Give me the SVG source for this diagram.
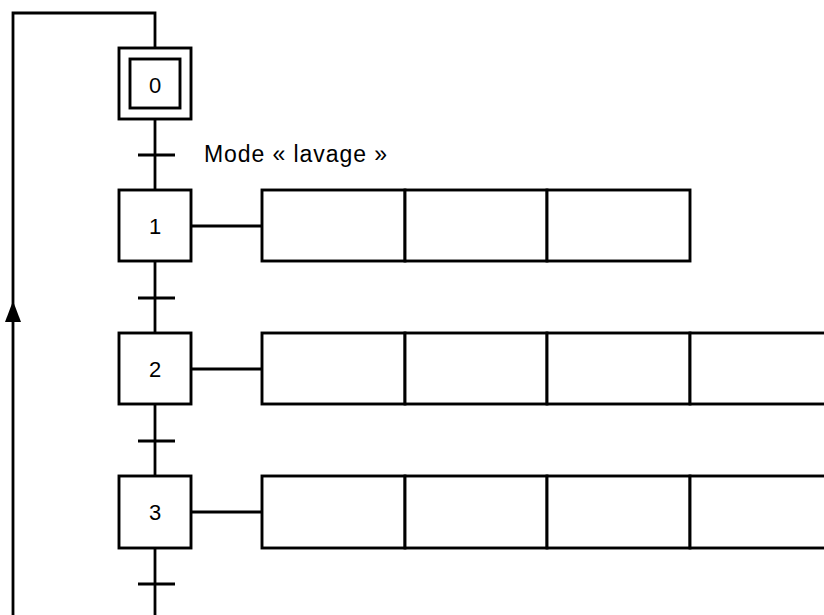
<svg xmlns="http://www.w3.org/2000/svg" width="824" height="615" viewBox="0 0 824 615">
<defs>
<style>
.box{fill:#fff;stroke:#000;stroke-width:2.9}
.ln{fill:none;stroke:#000;stroke-width:2.8}
.lbl{font-family:"Liberation Sans",Arial,sans-serif;font-size:23px;fill:#000}
.num{font-family:"Liberation Sans",Arial,sans-serif;font-size:22px;fill:#000;text-anchor:middle}
</style>
</defs>
<rect width="824" height="615" fill="#fff"/>
<g id="connectors">
<path class="ln" d="M155,48 V13 H13 V615"/>
<path d="M13,301 L21,322 L5,322 Z" fill="#000"/>
<path class="ln" d="M155,119 V190"/>
<path class="ln" d="M155,261 V333"/>
<path class="ln" d="M155,404 V476"/>
<path class="ln" d="M155,548 V615"/>
<path class="ln" d="M138,155 H175"/>
<path class="ln" d="M138,298 H175"/>
<path class="ln" d="M138,441 H175"/>
<path class="ln" d="M138,584 H175"/>
<path class="ln" d="M191,226 H262"/>
<path class="ln" d="M191,369 H262"/>
<path class="ln" d="M191,512 H262"/>
</g>
<g id="label-t1"><text class="lbl" x="204" y="162" textLength="183" lengthAdjust="spacing">Mode « lavage »</text></g>
<g id="step0">
<rect class="box" x="119" y="48" width="72" height="71"/>
<rect class="box" x="130" y="59" width="50" height="49"/>
<text class="num" x="155" y="92.5">0</text>
</g>
<g id="step1">
<rect class="box" x="119" y="190" width="72" height="71"/>
<text class="num" x="155" y="234">1</text>
</g>
<g id="step2">
<rect class="box" x="119" y="333" width="72" height="71"/>
<text class="num" x="155" y="377">2</text>
</g>
<g id="step3">
<rect class="box" x="119" y="476" width="72" height="72"/>
<text class="num" x="155" y="520">3</text>
</g>
<g id="actions1">
<rect class="box" x="262" y="190" width="143" height="71"/>
<rect class="box" x="405" y="190" width="142" height="71"/>
<rect class="box" x="547" y="190" width="143" height="71"/>
</g>
<g id="actions2">
<rect class="box" x="262" y="333" width="143" height="71"/>
<rect class="box" x="405" y="333" width="142" height="71"/>
<rect class="box" x="547" y="333" width="143" height="71"/>
<rect class="box" x="690" y="333" width="143" height="71"/>
</g>
<g id="actions3">
<rect class="box" x="262" y="476" width="143" height="72"/>
<rect class="box" x="405" y="476" width="142" height="72"/>
<rect class="box" x="547" y="476" width="143" height="72"/>
<rect class="box" x="690" y="476" width="143" height="72"/>
</g>
</svg>
